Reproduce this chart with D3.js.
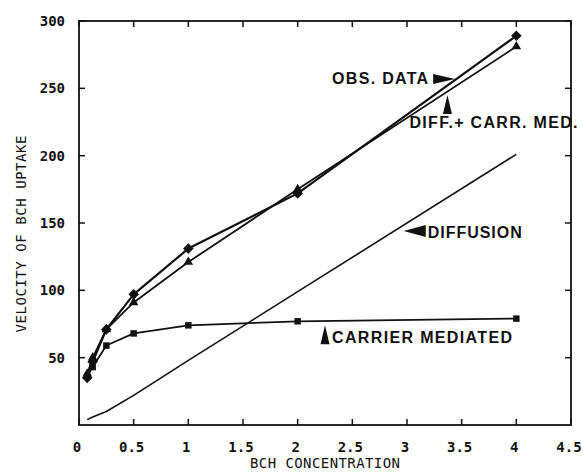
<!DOCTYPE html>
<html>
<head>
<meta charset="utf-8">
<script src="https://cdn.jsdelivr.net/npm/d3@7"></script>
<style>
  html, body { margin: 0; padding: 0; background: #fff; }
  svg { display: block; }
  .tick-label { font-family: "DejaVu Sans Mono", monospace; font-weight: bold; font-size: 14px; fill: #111; }
  .axis-title { font-family: "DejaVu Sans Mono", monospace; font-size: 14px; fill: #111; }
  .note { font-family: "Liberation Sans", Arial, sans-serif; font-weight: bold; font-size: 16px; fill: #111; }
</style>
</head>
<body>
<svg id="chart" width="582" height="472"></svg>
<script>
// BCH concentration (x) and uptake velocities
const conc = [0.075, 0.125, 0.25, 0.5, 1, 2, 4];
const obsData = [35, 47, 71, 97, 131, 172, 289];
const diffCarr = [38, 50, 71, 91, 121, 175, 281];
const carrier = [36, 43, 59, 68, 74, 77, 79];
const diffusion = [4, 6, 10, 22, 48, 99, 201];

const xTicks = [0, 0.5, 1, 1.5, 2, 2.5, 3, 3.5, 4, 4.5];
const yTicks = [50, 100, 150, 200, 250, 300];

const svg = d3.select('#chart');
const x = d3.scaleLinear().domain([0, 4.5]).range([79, 571]);
const y = d3.scaleLinear().domain([0, 300]).range([425, 21]);

// frame
svg.append('rect')
    .attr('x', x(0)).attr('y', y(300))
    .attr('width', x(4.5) - x(0)).attr('height', y(0) - y(300))
    .attr('fill', 'none').attr('stroke', '#111').attr('stroke-width', 1.8);

const tickLen = 6;
// inward ticks on all four sides
svg.append('g').selectAll('line.xb').data(xTicks).enter().append('line')
    .attr('x1', d => x(d)).attr('x2', d => x(d))
    .attr('y1', y(0)).attr('y2', y(0) - tickLen)
    .attr('stroke', '#111').attr('stroke-width', 1.5);
svg.append('g').selectAll('line.xt').data(xTicks).enter().append('line')
    .attr('x1', d => x(d)).attr('x2', d => x(d))
    .attr('y1', y(300)).attr('y2', y(300) + tickLen)
    .attr('stroke', '#111').attr('stroke-width', 1.5);
svg.append('g').selectAll('line.yl').data(yTicks).enter().append('line')
    .attr('y1', d => y(d)).attr('y2', d => y(d))
    .attr('x1', x(0)).attr('x2', x(0) + tickLen)
    .attr('stroke', '#111').attr('stroke-width', 1.5);
svg.append('g').selectAll('line.yr').data(yTicks).enter().append('line')
    .attr('y1', d => y(d)).attr('y2', d => y(d))
    .attr('x1', x(4.5)).attr('x2', x(4.5) - tickLen)
    .attr('stroke', '#111').attr('stroke-width', 1.5);

// tick labels
svg.append('g').selectAll('text').data(xTicks).enter().append('text')
    .attr('class', 'tick-label')
    .attr('x', d => x(d) - 2).attr('y', 452)
    .attr('text-anchor', 'middle')
    .text(d => String(d));
svg.append('g').selectAll('text').data(yTicks).enter().append('text')
    .attr('class', 'tick-label')
    .attr('x', 65).attr('y', d => y(d) + 5)
    .attr('text-anchor', 'end')
    .text(d => String(d));

// axis titles
svg.append('text').attr('class', 'axis-title')
    .attr('x', 325).attr('y', 468).attr('text-anchor', 'middle')
    .attr('textLength', 150).attr('lengthAdjust', 'spacing')
    .text('BCH CONCENTRATION');
svg.append('text').attr('class', 'axis-title')
    .attr('transform', 'translate(26,234) rotate(-90)')
    .attr('text-anchor', 'middle')
    .attr('textLength', 197).attr('lengthAdjust', 'spacing')
    .text('VELOCITY OF BCH UPTAKE');

// series lines
const series = [
    { values: diffusion, width: 1.6, marker: null },
    { values: carrier, width: 1.8, marker: 'square' },
    { values: diffCarr, width: 1.8, marker: 'triangle' },
    { values: obsData, width: 2.2, marker: 'diamond' }
];
const line = d3.line().x(d => x(d[0])).y(d => y(d[1]));
const symbols = {
    square: { sym: d3.symbol().type(d3.symbolSquare).size(42), rot: 0 },
    triangle: { sym: d3.symbol().type(d3.symbolTriangle).size(40), rot: 0 },
    diamond: { sym: d3.symbol().type(d3.symbolSquare).size(56), rot: 45 }
};

series.forEach(s => {
    const pts = conc.map((c, i) => [c, s.values[i]]);
    svg.append('path')
        .datum(pts)
        .attr('fill', 'none')
        .attr('stroke', '#111')
        .attr('stroke-width', s.width)
        .attr('stroke-linejoin', 'round')
        .attr('d', line);
    if (!s.marker) return;
    const m = symbols[s.marker];
    svg.append('g').selectAll('path').data(pts).enter().append('path')
        .attr('transform', d => `translate(${x(d[0])},${y(d[1])}) rotate(${m.rot})`)
        .attr('d', m.sym)
        .attr('fill', '#111');
});

// annotations: arrow tip in data units, arrow direction, text placement (px offsets from tip)
const notes = [
    { text: 'OBS. DATA', cx: 3.44, cv: 257, dir: 'right', tx: -123, ty: 5, len: 96 },
    { text: 'DIFF.+ CARR. MED.', cx: 3.37, cv: 245, dir: 'up', tx: -38, ty: 33, len: 168 },
    { text: 'DIFFUSION', cx: 2.97, cv: 144, dir: 'left', tx: 24, ty: 7, len: 94 },
    { text: 'CARRIER MEDIATED', cx: 2.25, cv: 74, dir: 'up', tx: 7, ty: 18, len: 180 }
];
notes.forEach(n => {
    const px = x(n.cx), py = y(n.cv);
    let pts;
    if (n.dir === 'right') pts = [[px, py], [px - 22, py - 5], [px - 22, py + 5]];
    else if (n.dir === 'left') pts = [[px, py], [px + 22, py - 6], [px + 22, py + 6]];
    else pts = [[px, py], [px - 4.5, py + 19], [px + 4.5, py + 19]];
    svg.append('polygon')
        .attr('points', pts.map(p => p.join(',')).join(' '))
        .attr('fill', '#111');
    svg.append('text').attr('class', 'note')
        .attr('x', px + n.tx).attr('y', py + n.ty)
        .attr('textLength', n.len).attr('lengthAdjust', 'spacing')
        .text(n.text);
});
</script>
</body>
</html>
